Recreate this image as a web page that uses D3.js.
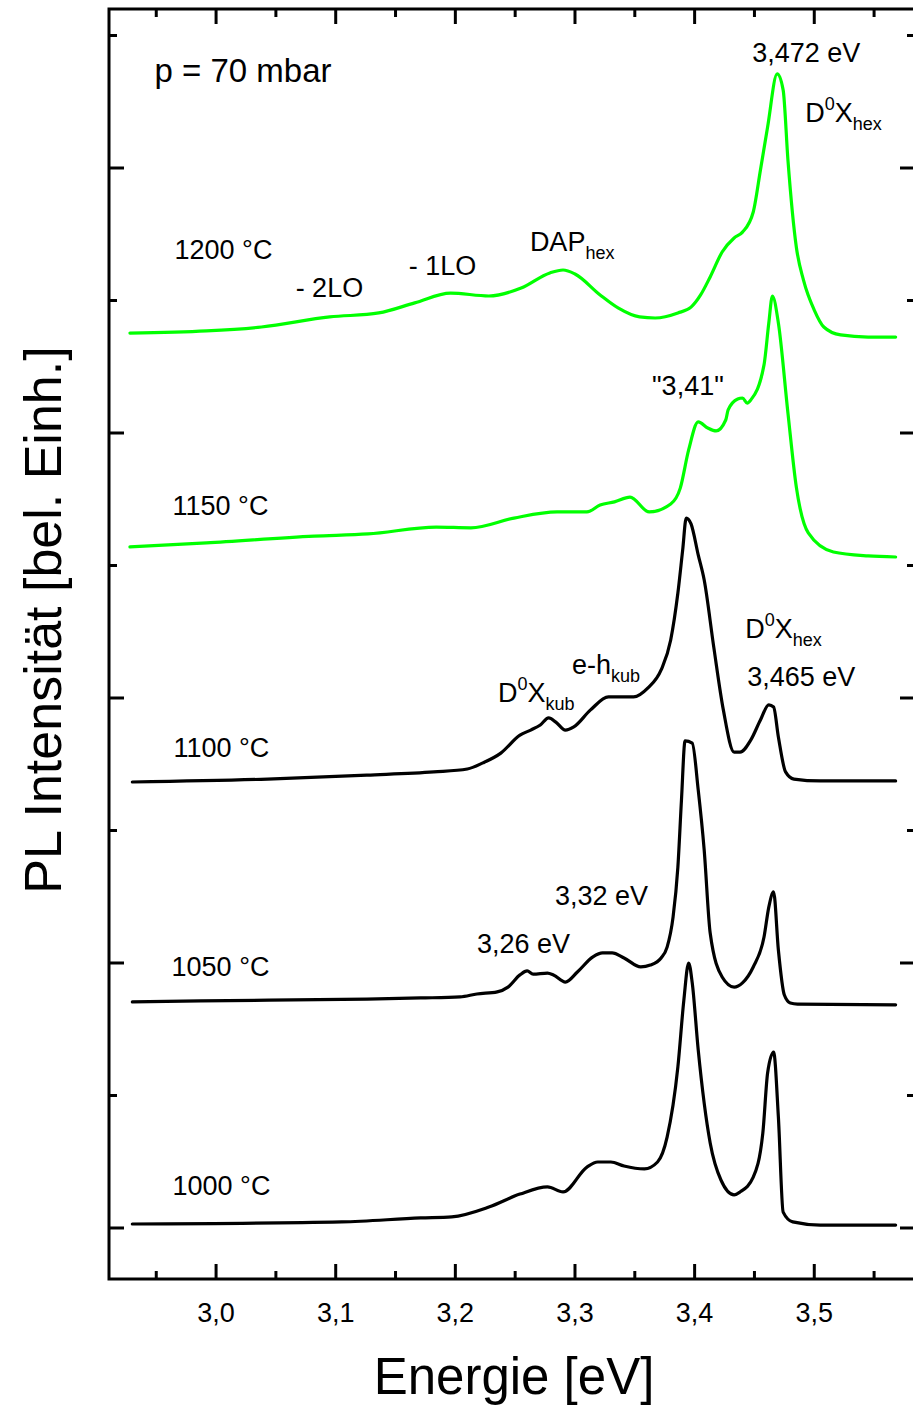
<!DOCTYPE html>
<html><head><meta charset="utf-8">
<script src="https://cdn.jsdelivr.net/npm/d3@7"></script>
<style>
body{margin:0;background:#fff}
svg{display:block}
text{font-family:Arial,"Liberation Sans",sans-serif;fill:#000}
</style>
</head><body>
<svg id="chart" width="913" height="1406"></svg>
<script>
// ---- axis ticks ----
const xMajorTicks = [3.0, 3.1, 3.2, 3.3, 3.4, 3.5];
const xTickLabels = ["3,0", "3,1", "3,2", "3,3", "3,4", "3,5"];
const xMinorTicks = [2.95, 3.05, 3.15, 3.25, 3.35, 3.45, 3.55];
const yMajorTicks = [0, 1, 2, 3, 4];
const yMinorTicks = [0.5, 1.5, 2.5, 3.5, 4.5];

// ---- spectra (energy in eV, intensity in arb. units incl. vertical offset) ----
const e1000 = [2.930,3.105,3.171,3.197,3.228,3.254,3.277,3.290,3.310,3.319,3.330,3.341,3.358,3.369,3.377,3.386,3.391,3.395,3.398,3.403,3.413,3.422,3.433,3.438,3.449,3.457,3.461,3.466,3.470,3.474,3.482,3.505,3.568];
const i1000 = [0.015,0.023,0.038,0.042,0.079,0.128,0.155,0.136,0.230,0.249,0.249,0.234,0.223,0.249,0.343,0.608,0.860,1.000,0.925,0.672,0.321,0.181,0.125,0.136,0.192,0.358,0.585,0.664,0.419,0.060,0.023,0.011,0.011];

const e1050 = [2.930,2.987,3.126,3.171,3.204,3.218,3.235,3.244,3.254,3.260,3.265,3.277,3.282,3.292,3.302,3.315,3.323,3.331,3.341,3.355,3.363,3.372,3.377,3.382,3.386,3.389,3.392,3.398,3.403,3.408,3.413,3.423,3.433,3.440,3.449,3.458,3.462,3.466,3.470,3.475,3.480,3.486,3.568];
const i1050 = [0.853,0.857,0.864,0.868,0.872,0.883,0.891,0.909,0.955,0.970,0.958,0.962,0.955,0.928,0.966,1.023,1.038,1.038,1.019,0.985,0.992,1.019,1.060,1.174,1.362,1.615,1.838,1.830,1.653,1.426,1.113,0.947,0.909,0.925,0.985,1.098,1.211,1.268,1.049,0.879,0.849,0.845,0.842];

const e1100 = [2.930,3.043,3.126,3.182,3.210,3.223,3.238,3.254,3.263,3.271,3.278,3.284,3.292,3.299,3.313,3.328,3.338,3.349,3.361,3.372,3.380,3.386,3.390,3.393,3.397,3.403,3.408,3.416,3.424,3.433,3.438,3.447,3.455,3.462,3.466,3.470,3.476,3.483,3.505,3.568];
const i1100 = [1.683,1.694,1.709,1.721,1.732,1.755,1.792,1.860,1.879,1.898,1.925,1.909,1.879,1.891,1.955,2.004,2.004,2.004,2.038,2.106,2.219,2.396,2.558,2.679,2.657,2.540,2.445,2.192,1.955,1.796,1.796,1.842,1.917,1.974,1.966,1.853,1.721,1.694,1.687,1.687];

const e1150 = [2.928,2.992,3.082,3.127,3.184,3.213,3.249,3.285,3.310,3.321,3.333,3.346,3.362,3.380,3.388,3.395,3.403,3.411,3.418,3.426,3.428,3.436,3.440,3.444,3.447,3.458,3.462,3.465,3.470,3.478,3.485,3.495,3.516,3.545,3.568];
const i1150 = [2.570,2.585,2.611,2.619,2.645,2.642,2.679,2.702,2.702,2.728,2.740,2.758,2.702,2.732,2.792,2.936,3.042,3.019,3.008,3.049,3.087,3.128,3.132,3.113,3.125,3.257,3.415,3.517,3.415,3.075,2.796,2.623,2.551,2.536,2.532];

const e1200 = [2.928,2.992,3.038,3.095,3.136,3.166,3.196,3.228,3.255,3.279,3.290,3.300,3.321,3.336,3.354,3.367,3.386,3.397,3.405,3.413,3.423,3.433,3.440,3.449,3.455,3.461,3.469,3.474,3.478,3.485,3.491,3.500,3.508,3.522,3.545,3.568];
const i1200 = [3.377,3.385,3.400,3.438,3.453,3.491,3.528,3.517,3.547,3.604,3.615,3.600,3.521,3.472,3.438,3.434,3.453,3.475,3.521,3.589,3.683,3.736,3.758,3.834,3.992,4.155,4.355,4.294,4.030,3.702,3.577,3.464,3.400,3.370,3.362,3.362];

const seriesNames = ["1000 °C", "1050 °C", "1100 °C", "1150 °C", "1200 °C"];
const seriesColors = ["#000000", "#000000", "#000000", "#00ff00", "#00ff00"];
const seriesE = [e1000, e1050, e1100, e1150, e1200];
const seriesI = [i1000, i1050, i1100, i1150, i1200];

// ---- annotations (anchored in data coordinates) ----
const annotations = [
  {parts:[["p = 70 mbar"]], e:2.9485, i:4.325, size:33},
  {parts:[["3,472 eV"]], e:3.4481, i:4.400},
  {parts:[["D"],["0","sup"],["X"],["hex","sub"]], e:3.4925, i:4.174},
  {parts:[["1200 °C"]], e:2.9653, i:3.657},
  {parts:[["- 2LO"]], e:3.0665, i:3.513},
  {parts:[["- 1LO"]], e:3.1611, i:3.596},
  {parts:[["DAP"],["hex","sub"]], e:3.2623, i:3.687},
  {parts:[["\"3,41\""]], e:3.3644, i:3.143},
  {parts:[["1150 °C"]], e:2.9636, i:2.691},
  {parts:[["D"],["0","sup"],["X"],["hex","sub"]], e:3.4423, i:2.226},
  {parts:[["3,465 eV"]], e:3.4439, i:2.045},
  {parts:[["e-h"],["kub","sub"]], e:3.2975, i:2.091},
  {parts:[["D"],["0","sup"],["X"],["kub","sub"]], e:3.2356, i:1.985},
  {parts:[["1100 °C"]], e:2.9644, i:1.777},
  {parts:[["3,32 eV"]], e:3.2833, i:1.219},
  {parts:[["3,26 eV"]], e:3.2180, i:1.038},
  {parts:[["1050 °C"]], e:2.9628, i:0.951},
  {parts:[["1000 °C"]], e:2.9636, i:0.125}
];

// ---- layout ----
const L = 109, R = 915, T = 9, B = 1279;
const svg = d3.select("#chart");
const x = d3.scaleLinear().domain([2.9105, 3.5842]).range([L, R]);
const y = d3.scaleLinear().domain([-0.1925, 4.6]).range([B, T]);

// spectra
const line = d3.line().x(d => x(d[0])).y(d => y(d[1])).curve(d3.curveMonotoneX);
seriesE.forEach((es, k) => {
  svg.append("path")
    .datum(d3.zip(es, seriesI[k]))
    .attr("d", line)
    .attr("fill", "none")
    .attr("stroke", seriesColors[k])
    .attr("stroke-width", 3.2)
    .attr("stroke-linejoin", "round")
    .attr("stroke-linecap", "round");
});

// frame
svg.append("rect").attr("x", L).attr("y", T).attr("width", R - L).attr("height", B - T)
  .attr("fill", "none").attr("stroke", "#000").attr("stroke-width", 3);

// ticks
const tickG = svg.append("g").attr("stroke", "#000").attr("stroke-width", 3);
const xt = xMajorTicks.map(v => [v, 15]).concat(xMinorTicks.map(v => [v, 8]));
xt.forEach(([v, len]) => {
  tickG.append("line").attr("x1", x(v)).attr("x2", x(v)).attr("y1", B).attr("y2", B - len);
  tickG.append("line").attr("x1", x(v)).attr("x2", x(v)).attr("y1", T).attr("y2", T + len);
});
const yt = yMajorTicks.map(v => [v, 15]).concat(yMinorTicks.map(v => [v, 8]));
yt.forEach(([v, len]) => {
  tickG.append("line").attr("x1", L).attr("x2", L + len).attr("y1", y(v)).attr("y2", y(v));
  tickG.append("line").attr("x1", R).attr("x2", R - len).attr("y1", y(v)).attr("y2", y(v));
});

// x tick labels
svg.append("g").selectAll("text").data(xMajorTicks).join("text")
  .attr("x", d => x(d)).attr("y", B + 43)
  .attr("text-anchor", "middle").attr("font-size", 27)
  .text((d, i) => xTickLabels[i]);

// axis titles
svg.append("text").attr("x", (L + R) / 2 + 2).attr("y", 1394)
  .attr("text-anchor", "middle").attr("font-size", 51).text("Energie [eV]");
svg.append("text").attr("transform", "translate(61,620) rotate(-90)")
  .attr("text-anchor", "middle").attr("font-size", 52).text("PL Intensität [bel. Einh.]");

// annotations
annotations.forEach(a => {
  const base = a.size || 27;
  const t = svg.append("text").attr("x", x(a.e)).attr("y", y(a.i)).attr("font-size", base);
  let shift = 0;
  a.parts.forEach(([s, kind]) => {
    let target = 0, fs = base;
    if (kind === "sup") { target = -12; fs = 18; }
    else if (kind === "sub") { target = 8; fs = 18; }
    t.append("tspan").attr("dy", target - shift).attr("font-size", fs).text(s);
    shift = target;
  });
});
</script>
</body></html>
